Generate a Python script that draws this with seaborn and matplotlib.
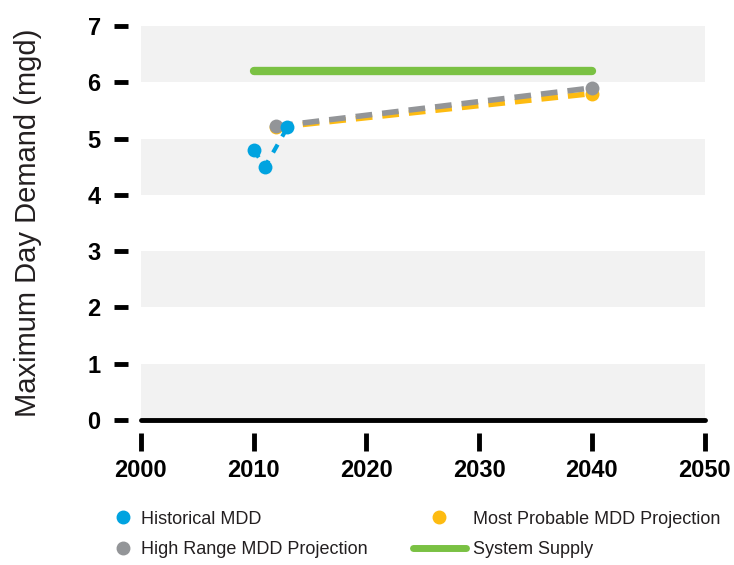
import matplotlib
matplotlib.use("Agg")
import matplotlib.pyplot as plt
from matplotlib.lines import Line2D
import pandas as pd
import seaborn as sns

# series
hist_years = [2010, 2011, 2013]
hist_mdd = [4.8, 4.5, 5.2]
probable_years = [2012, 2040]
probable_mdd = [5.2, 5.8]
high_years = [2012, 2040]
high_mdd = [5.22, 5.9]
supply_years = [2010, 2040]
supply_mgd = [6.2, 6.2]

x_ticks = [2000, 2010, 2020, 2030, 2040, 2050]
y_ticks = [0, 1, 2, 3, 4, 5, 6, 7]

BLUE = "#00a3e0"
YELLOW = "#fdbb11"
GRAY = "#939598"
GREEN = "#7ac143"
INK = "#231f20"

sns.set_theme(style="white")
plt.rcParams["font.family"] = ["Liberation Sans", "DejaVu Sans"]

fig = plt.figure(figsize=(7.34, 5.65), dpi=100)
ax = fig.add_axes([0.192, 0.2566, 0.768, 0.6974])

# alternating horizontal bands
for lo in [0, 2, 4, 6]:
    ax.axhspan(lo, lo + 1, color="#f2f2f2", lw=0, zorder=0)

supply = pd.DataFrame({"year": supply_years, "mgd": supply_mgd})
sns.lineplot(data=supply, x="year", y="mgd", ax=ax, color=GREEN, lw=6,
             solid_capstyle="round", zorder=3)

prob = pd.DataFrame({"year": probable_years, "mgd": probable_mdd})
sns.lineplot(data=prob, x="year", y="mgd", ax=ax, color=YELLOW, lw=4,
             marker="o", markersize=10, markeredgewidth=0,
             dashes=False, linestyle=(0, (3, 1.8)), zorder=4)

high = pd.DataFrame({"year": high_years, "mgd": high_mdd})
sns.lineplot(data=high, x="year", y="mgd", ax=ax, color=GRAY, lw=4,
             marker="o", markersize=10, markeredgewidth=0,
             dashes=False, linestyle=(0, (3, 1.8)), zorder=5)

hist = pd.DataFrame({"year": hist_years, "mgd": hist_mdd})
sns.lineplot(data=hist, x="year", y="mgd", ax=ax, color=BLUE, lw=3,
             marker="o", markersize=10, markeredgewidth=0,
             dashes=False, linestyle=(0, (2.2, 2.2)), zorder=6)

ax.axhline(0, color="black", lw=3.5, zorder=7, clip_on=False)

ax.set_xlim(2000, 2050)
ax.set_ylim(0, 7)
ax.set_xticks(x_ticks)
ax.set_yticks(y_ticks)
for s in ["top", "right", "left", "bottom"]:
    ax.spines[s].set_visible(False)
ax.spines["left"].set_position(("outward", 9))
ax.spines["bottom"].set_position(("outward", 9))
ax.tick_params(axis="y", which="major", left=True, length=10, width=3.5,
               color="black", direction="out", pad=10, labelsize=17)
ax.tick_params(axis="x", which="major", bottom=True, length=13, width=3.5,
               color="black", direction="out", pad=6, labelsize=17)
for lab in ax.get_xticklabels() + ax.get_yticklabels():
    lab.set_fontweight("bold")
    lab.set_color("black")

ax.set_xlabel("")
ax.set_ylabel("Maximum Day Demand (mgd)", fontsize=21, color=INK)
ax.yaxis.set_label_coords(-0.175, 0.5)

h_hist = Line2D([], [], color=BLUE, marker="o", lw=0, markersize=9)
h_high = Line2D([], [], color=GRAY, marker="o", lw=0, markersize=9)
h_prob = Line2D([], [], color=YELLOW, marker="o", lw=0, markersize=9)
h_sup = Line2D([], [], color=GREEN, lw=5, solid_capstyle="round")

fig.legend([h_hist, h_high], ["Historical MDD", "High Range MDD Projection"],
           loc="upper left", bbox_to_anchor=(0.155, 0.096), frameon=False,
           handlelength=1.0, handletextpad=0.5, labelspacing=0.75,
           borderpad=0, borderaxespad=0, fontsize=13, labelcolor=INK)
fig.legend([h_prob, h_sup], ["Most Probable MDD Projection", "System Supply"],
           loc="upper left", bbox_to_anchor=(0.563, 0.096), frameon=False,
           handlelength=2.9, handletextpad=0.4, labelspacing=0.75,
           borderpad=0, borderaxespad=0, fontsize=13, labelcolor=INK)

fig.savefig("out.png", dpi=100)
